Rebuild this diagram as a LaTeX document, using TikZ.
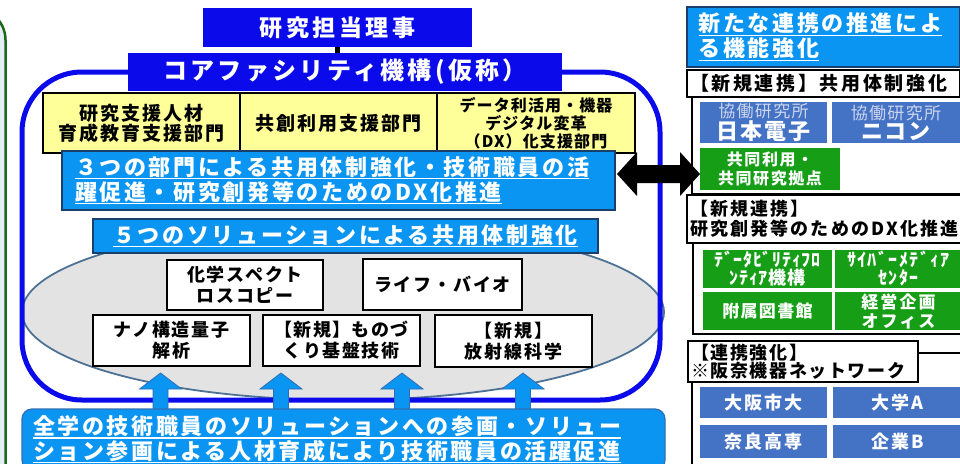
\documentclass[tikz,border=0pt]{standalone}
\usepackage{fontspec}
\setmainfont{Noto Sans CJK JP}
\usetikzlibrary{shapes.geometric}
\definecolor{dblue}{HTML}{0A0AEB}
\definecolor{bblue}{HTML}{0B95F2}
\definecolor{bbord}{HTML}{1B3F6B}
\definecolor{abord}{HTML}{2E6FB4}
\definecolor{yel}{HTML}{FFFF99}
\definecolor{sblue}{HTML}{4472C4}
\definecolor{grn}{HTML}{179E17}
\definecolor{ellfill}{HTML}{E3E3E3}
\definecolor{ellline}{HTML}{4E7196}
\definecolor{lgreen}{HTML}{1B6A1B}
\definecolor{lfill}{HTML}{E5EDF5}
\definecolor{pale}{HTML}{CDD5EE}
\newcommand\fs[3]{\fontsize{#1}{#2}\selectfont\bfseries\addfontfeature{LetterSpace=#3}}
\newcommand\ulx[1]{\leavevmode\setbox0=\hbox{#1}\rlap{\rule[-4pt]{\wd0}{1.4pt}}\box0}
\begin{document}
\begin{tikzpicture}[x=1pt,y=-1pt,
  every node/.style={inner sep=0pt, outer sep=0pt},
  darkbox/.style={fill=dblue, text=white},
  ybox/.style={draw=black, line width=1.5pt, fill=yel, align=center},
  bbox/.style={draw=bbord, line width=1.2pt, fill=bblue, text=white},
  wbox/.style={draw=black, line width=2.6pt, fill=white, align=center, font=\fs{18}{21}{10}},
  hbox/.style={draw=black, line width=1.6pt, fill=white, align=left},
  sbox/.style={fill=sblue, text=white, align=center, font=\fs{18}{20}{10}},
  gbox/.style={fill=grn, text=white, align=center},
  grpline/.style={draw=black, line width=1.6pt},
  uparrow/.style={fill=bblue, draw=abord, line width=0.8pt}]
\useasboundingbox (0,0) rectangle (960,463);
\clip (0,0) rectangle (960,463);

% left green frame
\draw[lgreen, fill=lfill, line width=2.5pt, rounded corners=32pt] (-80,8) rectangle (5.5,530);

% ellipse and blue outline
\node[ellipse, draw=ellline, line width=1.8pt, fill=ellfill, minimum width=642pt, minimum height=176pt] (ell) at (343,312) {};
\draw[dblue, line width=5pt, rounded corners=60pt] (22,72) rectangle (660,400);

% top boxes
\node[darkbox, minimum width=269pt, minimum height=39pt, font=\fs{23}{26}{15}] (top) at (337.5,27.5) {研究担当理事};
\node[darkbox, minimum width=434pt, minimum height=38pt, font=\fs{24}{27}{14}] (core) at (345,72) {コアファシリティ機構(仮称）};
\draw[black, line width=5pt] (top.south) -- (top.south |- core.north);

% yellow departments
\node[ybox, minimum width=197pt, minimum height=60pt, font=\fs{19}{20}{10}] (y1) at (141.5,123) {研究支援人材\\育成教育支援部門};
\node[ybox, minimum width=197pt, minimum height=60pt, font=\fs{19}{20}{10}] (y2) at (338.5,123) {共創利用支援部門};
\node[ybox, minimum width=198pt, minimum height=60pt, font=\fs{16}{18}{7}] (y3) at (536,123) {データ利活用・機器\\デジタル変革\\（DX）化支援部門};

% blue banners
\node[bbox, minimum width=553pt, minimum height=59pt, text width=527pt, align=left, font=\fs{22}{25}{12}] (b3) at (338.5,180.5)
  {\ulx{３つの部門による共用体制強化・技術職員の活}\\\ulx{躍促進・研究創発等のためのDX化推進}};
\node[bbox, minimum width=505pt, minimum height=34pt, font=\fs{22}{25}{12}] (b5) at (345.5,236) {\ulx{５つのソリューションによる共用体制強化}};

% solutions
\node[wbox, minimum width=156pt, minimum height=50pt] (w1) at (245,285) {化学スペクト\\ロスコピー};
\node[wbox, minimum width=159pt, minimum height=51pt] (w2) at (442.5,284.5) {ライフ・バイオ};
\node[wbox, minimum width=157pt, minimum height=51pt] (w3) at (171.5,340.5) {ナノ構造量子\\解析};
\node[wbox, minimum width=157pt, minimum height=51pt, font=\fs{18}{21}{8}] (w4) at (341.5,340.5) {【新規】ものづ\\くり基盤技術};
\node[wbox, minimum width=157pt, minimum height=52pt] (w5) at (513.5,341) {【新規】\\放射線科学};

% up arrows
\foreach \n/\x in {1/160.5,2/281,3/402,4/523}{
  \coordinate (a\n) at (\x,412);
  \draw[uparrow] (a\n) ++(-7.5,0) -- ++(0,-23) -- ++(-13.5,0) -- ++(21,-16) -- ++(21,16) -- ++(-13.5,0) -- ++(0,23) -- cycle;
}

% bottom banner
\node[bbox, draw=abord, rounded corners=10pt, minimum width=643pt, minimum height=61pt, text width=621pt, align=left, font=\fs{22}{23}{12}] (bot) at (343.5,439.5)
  {\ulx{全学の技術職員のソリューションへの参画・ソリュー}\\\ulx{ション参画による人材育成により技術職員の活躍促進}};

% right column
\node[bbox, minimum width=273pt, minimum height=60pt, text width=250pt, align=left, font=\fs{22}{25}{12}] (rtop) at (823.5,37)
  {\ulx{新たな連携の推進によ}\\\ulx{る機能強化}};

\draw[grpline] (692,95) rectangle (975,194);
\node[hbox, minimum width=273pt, minimum height=27pt, text width=267pt, font=\fs{19}{22}{14}] (h1) at (823.5,83.5) {【新規連携】共用体制強化};
\node[sbox, minimum width=127pt, minimum height=41pt, font=\fs{22}{20}{8}] (n1) at (763.5,122.5)
  {{\mdseries\fontsize{17}{20}\selectfont\addfontfeature{LetterSpace=8}\color{pale}協働研究所}\\日本電子};
\node[sbox, minimum width=128pt, minimum height=41pt, font=\fs{22}{20}{8}] (n2) at (896,122.5)
  {{\mdseries\fontsize{17}{20}\selectfont\addfontfeature{LetterSpace=8}\color{pale}協働研究所}\\ニコン};
\node[gbox, minimum width=140pt, minimum height=42pt, font=\fs{16}{19}{10}] (g1) at (770,169) {共同利用・\\共同研究拠点};

\draw[grpline] (693,243) rectangle (975,334);
\node[hbox, minimum width=278pt, minimum height=48pt, text width=272pt, font=\fs{18}{20}{12}] (h2) at (826,219) {【新規連携】\\研究創発等のためのDX化推進};
\node[gbox, minimum width=129pt, minimum height=38pt, font=\fs{18}{18}{4}] (g2) at (767.5,269) {ﾃﾞｰﾀﾋﾞﾘﾃｨﾌﾛ\\ﾝﾃｨｱ機構};
\node[gbox, minimum width=127pt, minimum height=38pt, font=\fs{18}{18}{8}] (g3) at (898.5,269) {ｻｲﾊﾞｰﾒﾃﾞｨｱ\\ｾﾝﾀｰ};
\node[gbox, minimum width=129pt, minimum height=38pt, font=\fs{17}{19}{8}] (g4) at (767.5,311) {附属図書館};
\node[gbox, minimum width=127pt, minimum height=38pt, font=\fs{17}{19}{12}] (g5) at (898.5,311) {経営企画\\オフィス};

\draw[grpline] (692,353) rectangle (975,480);
\node[hbox, minimum width=230pt, minimum height=41pt, text width=224pt, font=\fs{18}{18}{9}] (h3) at (803,361.5) {【連携強化】\\※阪奈機器ネットワーク};
\node[sbox, minimum width=127pt, minimum height=31pt] (s1) at (763.5,402.5) {大阪市大};
\node[sbox, minimum width=129pt, minimum height=31pt] (s2) at (897.5,402.5) {大学A};
\node[sbox, minimum width=127pt, minimum height=33pt] (s3) at (763.5,441.5) {奈良高専};
\node[sbox, minimum width=129pt, minimum height=33pt] (s4) at (897.5,441.5) {企業B};

% double arrow between the core facility and the new partnerships
\coordinate (dl) at (617,174);
\coordinate (dr) at (700,174);
\fill[black] (dl) -- ++(20,-22) -- ++(0,13) -- ++(43,0) -- ++(0,-13) -- (dr) -- ++(-20,22) -- ++(0,-13) -- ++(-43,0) -- ++(0,13) -- cycle;
\end{tikzpicture}
\end{document}
